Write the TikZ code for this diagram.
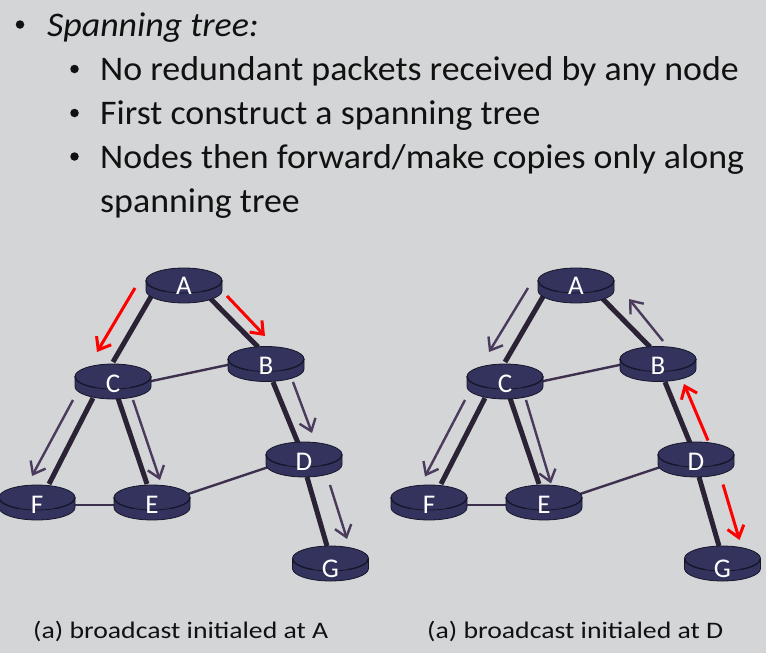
\documentclass[tikz,border=0pt]{standalone}
\usepackage{fontspec}
\setmainfont{Carlito}
\newfontfamily\bodyfont[FakeStretch=1.04]{Carlito}
\newfontfamily\capfont[FakeStretch=1.17]{Carlito}
\usetikzlibrary{arrows.meta}

\pgfdeclarelayer{linklayer}
\pgfdeclarelayer{bodylayer}
\pgfsetlayers{linklayer,bodylayer,main}

\definecolor{bg}{HTML}{D4D5D7}
\definecolor{routerfill}{HTML}{33335D}
\definecolor{routerline}{HTML}{16162A}
\definecolor{treelink}{HTML}{2B2236}
\definecolor{plainlink}{HTML}{3D2F4E}
\definecolor{flow}{HTML}{4A3B5C}
\definecolor{firsthop}{HTML}{FF0000}
\definecolor{ink}{HTML}{111111}

\tikzset{
  router/.style={inner sep=0pt, text=white, font=\fontsize{27}{27}\selectfont,
    text height=21pt, text depth=0pt},
  routerbody/.style={fill=routerfill, draw=routerline, line width=0.8pt},
  routerrim/.style={draw=routerline, line width=1.2pt},
  treeedge/.style={treelink, line width=5pt},
  plainedge/.style={plainlink, line width=2.4pt},
  copyflow/.style={flow, line width=2.4pt, -{Straight Barb[length=11pt,width=17pt]}},
  firstflow/.style={firsthop, line width=3pt, -{Straight Barb[length=11pt,width=17pt]}},
  bulletdot/.style={circle, fill=ink, inner sep=0pt, minimum size=8.5pt},
  bodytext/.style={anchor=base west, inner sep=0pt, text=ink, font=\bodyfont\fontsize{34.5}{34.5}\selectfont},
  caption/.style={anchor=base west, inner sep=0pt, text=ink, font=\capfont\fontsize{23.7}{23.7}\selectfont},
}

% the seven routers of one network
\newcommand\routers[2]{%
  \begin{scope}[xshift=#2]
    \node[router, text height=17pt] (#1A) at (184,285.5) {A};
    \node[router] (#1B) at (266,364) {B};
    \node[router] (#1C) at (113,381.5) {C};
    \node[router] (#1D) at (304,459.5) {D};
    \node[router] (#1E) at (152,502.5) {E};
    \node[router] (#1F) at (37,502.5) {F};
    \node[router, text height=28pt] (#1G) at (330.5,563.5) {G};
  \end{scope}}

% the disk-shaped body of a router
\newcommand\routerdisk[1]{%
  \begin{scope}[shift={(#1.center)}]
    \filldraw[routerbody] (-38pt,5pt) -- (-38pt,-5pt)
      arc[start angle=180, end angle=360, x radius=38pt, y radius=12.5pt]
      -- (38pt,5pt) -- cycle;
    \filldraw[routerbody] (0pt,5pt) ellipse [x radius=38pt, y radius=12.5pt];
    \draw[routerrim] (-38pt,5pt) arc[start angle=180, end angle=242, x radius=38pt, y radius=12.5pt];
    \draw[routerrim] (38pt,5pt) arc[start angle=0, end angle=-62, x radius=38pt, y radius=12.5pt];
  \end{scope}}

\newcommand\disks[1]{%
  \foreach \r in {A,B,C,D,E,F,G} {\routerdisk{#1\r}}}

% links: spanning-tree links thick, the others thin
\newcommand\links[1]{%
  \draw[treeedge] ([shift={(-32,9.5)}]#1A.center) -- ([shift={(0,-19.5)}]#1C.center);
  \draw[treeedge] ([shift={(21,7.5)}]#1A.center) -- ([shift={(-8,-17)}]#1B.center);
  \draw[treeedge] ([shift={(7,18)}]#1B.center) -- ([shift={(-6,-16.5)}]#1D.center);
  \draw[treeedge] ([shift={(-20,16.5)}]#1C.center) -- ([shift={(12,-18.5)}]#1F.center);
  \draw[treeedge] ([shift={(5,16.5)}]#1C.center) -- ([shift={(-5,-18.5)}]#1E.center);
  \draw[treeedge] ([shift={(3,17.5)}]#1D.center) -- ([shift={(-3.5,-17.5)}]#1G.center);
  \draw[plainedge] ([shift={(34,0.5)}]#1C.center) -- ([shift={(-34,0)}]#1B.center);
  \draw[plainedge] ([shift={(32,2.5)}]#1F.center) -- ([shift={(-32,2.5)}]#1E.center);
  \draw[plainedge] ([shift={(36,-8.5)}]#1E.center) -- ([shift={(-34,7)}]#1D.center);}

\begin{document}
\begin{tikzpicture}[x=1pt, y=-1pt]
  \useasboundingbox (0,0) rectangle (766,653);

  % bullet list
  \node[bulletdot] (b1) at (20,24.5) {};
  \node[bodytext] (l1) at (47,36) {\textit{Spanning tree:}};
  \node[bulletdot] (b2) at (74.5,69) {};
  \node[bodytext] (l2) at (100,80.5) {No redundant packets received by any node};
  \node[bulletdot] (b3) at (74.5,113) {};
  \node[bodytext] (l3) at (100,124.5) {First construct a spanning tree};
  \node[bulletdot] (b4) at (74.5,156.5) {};
  \node[bodytext] (l4) at (100,168) {Nodes then forward/make copies only along};
  \node[bodytext] (l5) at (100,212) {spanning tree};

  % the two networks
  \routers{l}{0pt}
  \routers{r}{392pt}

  % broadcast from A
  \draw[firstflow] ([shift={(-49,2.5)}]lA.center) -- ([shift={(-16,-29.5)}]lC.center);
  \draw[firstflow] ([shift={(43,10.5)}]lA.center) -- ([shift={(-1,-28)}]lB.center);
  \draw[copyflow] ([shift={(27,18)}]lB.center) -- ([shift={(8,-26.5)}]lD.center);
  \draw[copyflow] ([shift={(-40,18.5)}]lC.center) -- ([shift={(-5,-26.5)}]lF.center);
  \draw[copyflow] ([shift={(20,18.5)}]lC.center) -- ([shift={(8,-22.5)}]lE.center);
  \draw[copyflow] ([shift={(26,25.5)}]lD.center) -- ([shift={(16.5,-24.5)}]lG.center);

  % broadcast from D
  \draw[copyflow] ([shift={(-48,2.5)}]rA.center) -- ([shift={(-16,-29.5)}]rC.center);
  \draw[copyflow] ([shift={(5,-23)}]rB.center) -- ([shift={(53,13.5)}]rA.center);
  \draw[firstflow] ([shift={(12,-19)}]rD.center) -- ([shift={(26,20)}]rB.center);
  \draw[firstflow] ([shift={(27,25)}]rD.center) -- ([shift={(17,-23.5)}]rG.center);
  \draw[copyflow] ([shift={(-40,18.5)}]rC.center) -- ([shift={(-4,-26)}]rF.center);
  \draw[copyflow] ([shift={(21,18.5)}]rC.center) -- ([shift={(7,-19)}]rE.center);

  % captions
  \node[caption] (capA) at (33,638) {(a) broadcast initialed at A};
  \node[caption] (capD) at (427,638) {(a) broadcast initialed at D};

  \begin{pgfonlayer}{bodylayer}
    \disks{l}
    \disks{r}
  \end{pgfonlayer}

  \begin{pgfonlayer}{linklayer}
    \fill[bg] (0,0) rectangle (766,653);
    \links{l}
    \links{r}
  \end{pgfonlayer}
\end{tikzpicture}
\end{document}
